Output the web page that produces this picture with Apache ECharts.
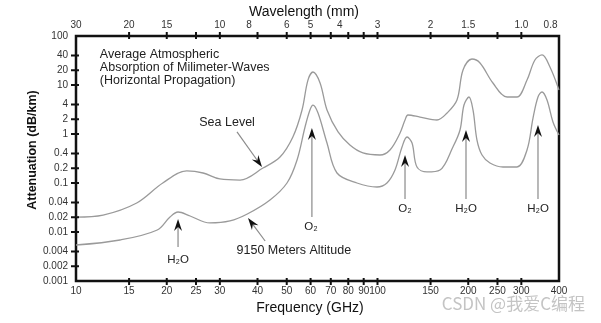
<!DOCTYPE html>
<html><head><meta charset="utf-8">
<script src="https://cdn.jsdelivr.net/npm/echarts@6/dist/echarts.min.js"></script>
<style>html,body{margin:0;padding:0;background:#fff}#c{width:601px;height:323px}</style>
</head><body><div id="c"></div>
<script>
// ---- data ----
const seaLevelFreq = [10, 12.3, 15.9, 19.4, 23.3, 26.4, 30.0, 35.0, 41.7, 47.5, 52.4, 56.2, 58.8, 61.1, 64.5, 68.0, 74.0, 81.0, 89.5, 101.9, 110.0, 118.8, 123.4, 126.2, 138.4, 157.5, 170.1, 183.5, 192.2, 205.7, 218.8, 241.5, 269.0, 290.2, 313.3, 332.8, 351.4, 373.3, 400];
const seaLevelAtt  = [0.0202, 0.0222, 0.0391, 0.1, 0.176, 0.16, 0.121, 0.115, 0.202, 0.339, 0.869, 3.09, 12.6, 18.4, 11.0, 3.09, 1.10, 0.596, 0.41, 0.373, 0.472, 1.048, 1.93, 2.44, 2.22, 1.93, 2.68, 4.94, 20.2, 33.9, 28.1, 11.0, 5.69, 5.69, 12.6, 32.4, 41.0, 23.3, 7.9];
const altitudeFreq = [10, 14.0, 18.6, 20.5, 21.8, 23.9, 27.8, 32.4, 37.0, 44.0, 50.1, 54.1, 57.5, 59.7, 61.1, 63.5, 68.0, 73.4, 85.5, 99.6, 107.5, 114.3, 120.6, 125.3, 130.2, 135.2, 145.9, 161.2, 177.9, 187.8, 193.6, 201.1, 207.4, 213.8, 222.2, 236.1, 260.8, 290.2, 313.3, 328.0, 340.7, 351.3, 365.0, 382.0, 400];
const altitudeAtt  = [0.00543, 0.00687, 0.0110, 0.0202, 0.0256, 0.0212, 0.0153, 0.0168, 0.0233, 0.045, 0.1, 0.295, 1.39, 3.09, 3.9, 2.68, 0.655, 0.16, 0.1, 0.0829, 0.1, 0.184, 0.543, 0.869, 0.655, 0.212, 0.168, 0.184, 0.543, 1.206, 3.9, 5.69, 3.09, 0.754, 0.373, 0.256, 0.212, 0.212, 0.472, 2.12, 5.69, 7.2, 4.94, 1.76, 0.954];

// ---- axis ticks / labels ----
const freqLabels = ['10','15','20','25','30','40','50','60','70','80','90','100','150','200','250','300','400'];
const freqTicks = [15, 20, 25, 30, 40, 50, 60, 70, 80, 90, 100, 150, 200, 250, 300];
const wavelengthLabels = ['30','20','15','10','8','6','5','4','3','2','1.5','1.0','0.8'];
const attLabels = ['0.001','0.002','0.004','0.01','0.02','0.04','0.1','0.2','0.4','1','2','4','10','20','40','100'];
const attTicks = [0.002, 0.004, 0.01, 0.02, 0.04, 0.1, 0.2, 0.4, 1, 2, 4, 10, 20, 40];

// ---- annotations (data coordinates: GHz, dB/km) ----
const arrowFrom = [[34.2, 1.10], [42.4, 0.00655], [21.8, 0.00494], [60.6, 0.0202], [123.4, 0.0472], [196.6, 0.0472], [340.7, 0.0472]];
const arrowTo   = [[41.4, 0.212], [37.2, 0.0193], [21.8, 0.0184], [60.6, 1.33], [123.4, 0.373], [196.6, 1.206], [340.7, 1.527]];
const noteTexts = ['Sea Level', '9150 Meters Altitude', 'H₂O', 'O₂', 'O₂', 'H₂O', 'H₂O'];
const noteAt    = [[31.7, 1.68], [52.8, 0.00409], [21.8, 0.00268], [60.2, 0.01265], [123.4, 0.0294], [196.6, 0.0294], [340.7, 0.0294]];
const titleLines = ['Average Atmospheric', 'Absorption of Milimeter-Waves', '(Horizontal Propagation)'];
const titleAt = [12.0, 42];

const FONT = '"Liberation Sans", Arial, sans-serif';
const zip = (a, b) => a.map((v, i) => [v, b[i]]);

const chart = echarts.init(document.getElementById('c'), null, {renderer: 'canvas'});
const hiddenAxis = {
  axisLine: {show: false}, axisTick: {show: false}, axisLabel: {show: false}, splitLine: {show: false}
};
chart.setOption({
  animation: false,
  backgroundColor: '#fff',
  grid: {left: 76, right: 42, top: 36, bottom: 42, show: true, borderColor: '#111', borderWidth: 2.5, backgroundColor: 'transparent'},
  xAxis: Object.assign({type: 'log', logBase: 10, min: 10, max: 400}, hiddenAxis),
  yAxis: Object.assign({type: 'log', logBase: 10, min: 0.001, max: 100}, hiddenAxis),
  series: [
    {name: 'Sea Level', type: 'line', data: zip(seaLevelFreq, seaLevelAtt), smooth: 0.35, showSymbol: false, symbol: 'none',
     lineStyle: {color: '#9a9a9a', width: 1.3}, z: 3},
    {name: '9150 Meters Altitude', type: 'line', data: zip(altitudeFreq, altitudeAtt), smooth: 0.35, showSymbol: false, symbol: 'none',
     lineStyle: {color: '#9a9a9a', width: 1.3}, z: 3}
  ]
});

const px = (f, v) => chart.convertToPixel({gridIndex: 0}, [f, v]);
const g = [];
function text(x, y, t, font, align, valign, fill, rot) {
  const el = {type: 'text', x: x, y: y, z: 20, silent: true,
    style: {text: t, font: font, fill: fill || '#222', align: align, verticalAlign: valign, textAlign: align, textVerticalAlign: valign}};
  if (rot) el.rotation = rot;
  g.push(el);
}
function line(x1, y1, x2, y2, color, w) {
  g.push({type: 'line', z: 20, silent: true, shape: {x1, y1, x2, y2}, style: {stroke: color, lineWidth: w}});
}
// ticks & labels
freqTicks.forEach(f => {
  const b = px(f, 0.001), t = px(f, 100);
  line(b[0], b[1] - 3, b[0], b[1] + 4, '#111', 2);
  line(t[0], t[1] - 4, t[0], t[1] + 3, '#111', 2);
});
freqLabels.forEach(s => {
  const p = px(parseFloat(s), 0.001);
  text(p[0], p[1] + 5, s, '10px ' + FONT, 'center', 'top', '#333');
});
wavelengthLabels.forEach(s => {
  const p = px(300 / parseFloat(s), 100);
  text(p[0], p[1] - 6, s, '10px ' + FONT, 'center', 'bottom', '#333');
});
attTicks.forEach(v => {
  const p = px(10, v);
  line(p[0] - 5, p[1], p[0] + 3, p[1], '#111', 2);
});
attLabels.forEach(s => {
  const p = px(10, parseFloat(s));
  text(p[0] - 8, p[1], s, '10px ' + FONT, 'right', 'middle', '#333');
});
// axis names
const gl = px(10, 100), gr = px(400, 0.001);
text(304, 12, 'Wavelength (mm)', '14px ' + FONT, 'center', 'middle', '#111');
text(310, gr[1] + 27, 'Frequency (GHz)', '14px ' + FONT, 'center', 'middle', '#111');
text(33, 150, 'Attenuation (dB/km)', 'bold 12.5px ' + FONT, 'center', 'middle', '#111', Math.PI / 2);
// arrows
arrowFrom.forEach((a, i) => {
  const p0 = px(a[0], a[1]), p1 = px(arrowTo[i][0], arrowTo[i][1]);
  const dx = p1[0] - p0[0], dy = p1[1] - p0[1], L = Math.hypot(dx, dy);
  const ux = dx / L, uy = dy / L, nx = -uy, ny = ux;
  const len = 12, half = 4, notch = 8;
  line(p0[0], p0[1], p1[0] - ux * notch, p1[1] - uy * notch, '#8a8a8a', 1.2);
  g.push({type: 'polygon', z: 21, silent: true, shape: {points: [
    [p1[0], p1[1]],
    [p1[0] - ux * len + nx * half, p1[1] - uy * len + ny * half],
    [p1[0] - ux * notch, p1[1] - uy * notch],
    [p1[0] - ux * len - nx * half, p1[1] - uy * len - ny * half]
  ]}, style: {fill: '#111'}});
});
noteTexts.forEach((t, i) => {
  const p = px(noteAt[i][0], noteAt[i][1]);
  const big = t.length > 4;
  text(p[0], p[1], t, (big ? '12.5px ' : '11.5px ') + FONT, 'center', 'middle', '#222');
});
const tp = px(titleAt[0], titleAt[1]);
titleLines.forEach((t, i) => text(tp[0], tp[1] + i * 13, t, '12.5px ' + FONT, 'left', 'middle', '#222'));
// watermark
text(585, 304, 'CSDN @我爱C编程', '17px "Noto Sans CJK SC", sans-serif', 'right', 'middle', '#c4c4c4');
chart.setOption({graphic: {elements: g}});
</script>
</body></html>
